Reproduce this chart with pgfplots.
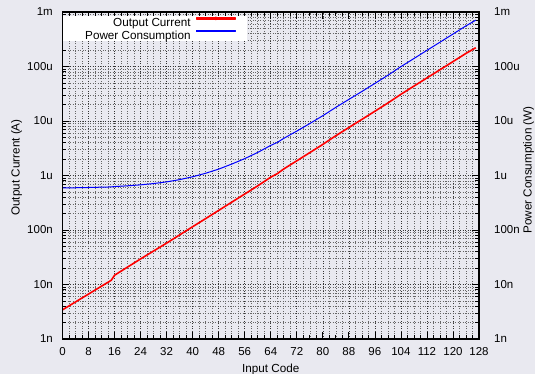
\documentclass[border=0pt]{standalone}
\usepackage{pgfplots}
\pgfplotsset{compat=1.18}
\usepackage{fontspec}
\setmainfont{Liberation Sans}

\definecolor{pagebg}{RGB}{233,233,240}
\definecolor{curred}{RGB}{255,0,0}
\definecolor{powblue}{RGB}{0,0,255}

\newcommand{\tickfont}{\fontsize{11.5bp}{13bp}\selectfont}
\newcommand{\labfont}{\fontsize{11.7bp}{14bp}\selectfont}

\pgfplotsset{
  dacframe/.style={
    scale only axis,
    width=416.5bp, height=327bp,
    at={(62.5bp,35bp)}, anchor=south west,
    xmin=0, xmax=128,
    ymin=1e-9, ymax=1e-3,
    axis line style={line width=1.1bp},
    /pgf/number format/assume math mode=true,
    tick label style={font=\tickfont},
  },
  % legend samples: thin line, the current one with a dot at its middle
  redsample/.style={legend image code/.code={
    \fill[fill=curred!70] (0bp,3.5bp) rectangle (39bp,4.4bp);
    \fill[fill=curred!85!black] (19.5bp,3.95bp) circle (1.1bp);
    \path (50bp,3.95bp);}},
  bluesample/.style={legend image code/.code={
    \fill[fill=powblue!80] (0bp,3.5bp) rectangle (39bp,4.4bp);
    \path (50bp,3.95bp);}},
}

\begin{document}
\begin{tikzpicture}
\fill[pagebg] (0,0) rectangle (535bp,374bp);
\useasboundingbox (0,0) rectangle (535bp,374bp);

% main axis: output current (left scale), grid and both curves
\begin{axis}[
  ymode=log,
  dacframe,
  xtick={0,8,...,128},
  minor x tick num=3,
  ytick={1e-9,1e-8,1e-7,1e-6,1e-5,1e-4,1e-3},
  yticklabels={1n,10n,100n,1u,10u,100u,1m},
  tick pos=both,
  tick align=inside,
  major tick length=7bp,
  minor tick length=4bp,
  every tick/.style={black, line width=0.7bp},
  grid=both,
  major grid style={black!80, line width=0.6bp, dash pattern=on 1bp off 1.5bp},
  minor grid style={black!60, line width=0.55bp, dash pattern=on 1bp off 1.5bp},
  xticklabel style={inner sep=0pt, yshift=-8bp},
  yticklabel style={inner sep=0pt, xshift=-9.5bp},
  xlabel={Input Code},
  ylabel={Output Current (A)},
  every axis x label/.style={at={(axis description cs:0.5,-0.0933)}, anchor=center, inner sep=0pt, font=\labfont},
  every axis y label/.style={at={(axis description cs:-0.1104,0.5245)}, anchor=center, rotate=90, inner sep=0pt, font=\labfont},
  legend plot pos=right,
  legend cell align=right,
  legend style={
    at={(axis description cs:0.0012,0.9878)}, anchor=north west,
    fill=white, draw=none, inner sep=0pt,
    row sep=0.5bp, column sep=5bp,
    font=\labfont,
    nodes={inner sep=0pt, text height=10.8bp},
  },
]
\addplot[curred, line width=1.6bp, line join=round, redsample]
coordinates {
(0,3.43e-9) (4,4.79e-9) (8,6.68e-9) (12,9.33e-9) (14,1.10e-8) (15,1.20e-8)
(16,1.48e-8) (20,2.09e-8) (24,2.95e-8) (28,4.12e-8) (32,5.75e-8) (36,8.13e-8)
(40,1.15e-7) (44,1.62e-7) (48,2.29e-7) (52,3.24e-7) (56,4.57e-7) (60,6.46e-7)
(64,9.33e-7) (66,1.08e-6) (68,1.32e-6) (72,1.86e-6) (76,2.63e-6) (80,3.72e-6)
(84,5.37e-6) (88,7.59e-6) (92,1.07e-5) (96,1.51e-5) (100,2.14e-5) (104,3.09e-5)
(108,4.37e-5) (112,6.17e-5) (116,8.71e-5) (120,1.23e-4) (124,1.74e-4) (127,2.21e-4)
};
\addlegendentry{Output Current}

\addplot[powblue, line width=1.0bp, line join=round, bluesample]
coordinates {
(0,5.91e-7) (4,5.96e-7) (8,6.03e-7) (12,6.11e-7) (14,6.15e-7) (15,6.18e-7)
(16,6.27e-7) (20,6.47e-7) (24,6.74e-7) (28,7.12e-7) (32,7.64e-7) (36,8.40e-7)
(40,9.48e-7) (44,1.10e-6) (48,1.31e-6) (52,1.62e-6) (56,2.04e-6) (60,2.65e-6)
(64,3.57e-6) (66,4.04e-6) (68,4.80e-6) (72,6.53e-6) (76,8.99e-6) (80,1.25e-5)
(84,1.78e-5) (88,2.49e-5) (92,3.48e-5) (96,4.89e-5) (100,6.91e-5) (104,9.95e-5)
(108,1.40e-4) (112,1.98e-4) (116,2.79e-4) (120,3.94e-4) (124,5.57e-4) (127,7.08e-4)
};
\addlegendentry{\hspace*{22bp}Power Consumption\rule[-4bp]{0pt}{4bp}}
\end{axis}

% second axis: power consumption scale on the right
\begin{axis}[
  ymode=log,
  dacframe,
  xtick=\empty,
  ytick={1e-9,1e-8,1e-7,1e-6,1e-5,1e-4,1e-3},
  yticklabels={1n,10n,100n,1u,10u,100u,1m},
  ytick pos=right,
  yticklabel pos=right,
  major tick length=0pt,
  minor tick length=0pt,
  yticklabel style={inner sep=0pt, xshift=15bp},
  ylabel={Power Consumption (W)},
  every axis y label/.style={at={(axis description cs:1.1188,0.5168)}, anchor=center, rotate=90, inner sep=0pt, font=\labfont},
]
\end{axis}
\end{tikzpicture}
\end{document}
